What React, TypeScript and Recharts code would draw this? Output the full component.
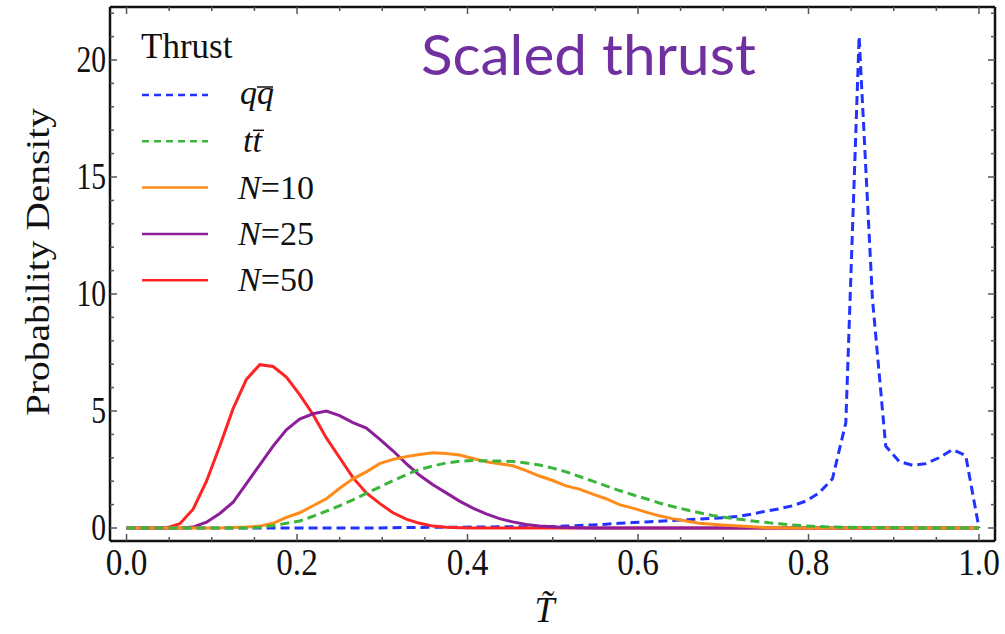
import React from "react";
import { LineChart, Line, XAxis, YAxis } from "recharts";

const W = 1005;
const H = 634;

// Thrust grid: 65 points, steps of 1/64 from 0 to 1
const T_GRID = [
  0, 0.0156, 0.0313, 0.0469, 0.0625, 0.0781, 0.0938, 0.1094, 0.125, 0.1406,
  0.1563, 0.1719, 0.1875, 0.2031, 0.2188, 0.2344, 0.25, 0.2656, 0.2813, 0.2969,
  0.3125, 0.3281, 0.3438, 0.3594, 0.375, 0.3906, 0.4063, 0.4219, 0.4375, 0.4531,
  0.4688, 0.4844, 0.5, 0.5156, 0.5313, 0.5469, 0.5625, 0.5781, 0.5938, 0.6094,
  0.625, 0.6406, 0.6563, 0.6719, 0.6875, 0.7031, 0.7188, 0.7344, 0.75, 0.7656,
  0.7813, 0.7969, 0.8125, 0.8281, 0.8438, 0.8594, 0.875, 0.8906, 0.9063, 0.9219,
  0.9375, 0.9531, 0.9688, 0.9844, 1,
];

// q qbar (blue dashed)
const QQ = [
  0, 0, 0, 0, 0, 0, 0, 0, 0, 0,
  0, 0, 0, 0, 0, 0, 0, 0, 0, 0,
  0.01, 0.02, 0.02, 0.03, 0.03, 0.03, 0.04, 0.04, 0.05, 0.05,
  0.05, 0.06, 0.06, 0.08, 0.11, 0.13, 0.16, 0.2, 0.23, 0.26,
  0.29, 0.32, 0.35, 0.38, 0.41, 0.45, 0.5, 0.6, 0.72, 0.82,
  0.95, 1.15, 1.5, 2.1, 4.5, 21.0, 9.8, 3.5, 2.85, 2.68,
  2.75, 3.0, 3.35, 3.1, 0,
];

// t tbar (green dashed)
const TT = [
  0, 0, 0, 0, 0, 0, 0, 0, 0, 0,
  0.03, 0.1, 0.2, 0.3, 0.5, 0.72, 0.95, 1.2, 1.48, 1.75,
  2.02, 2.28, 2.5, 2.65, 2.78, 2.85, 2.88, 2.87, 2.86, 2.84,
  2.78, 2.69, 2.56, 2.4, 2.2, 2.0, 1.8, 1.6, 1.42, 1.25,
  1.07, 0.92, 0.78, 0.65, 0.53, 0.45, 0.37, 0.3, 0.24, 0.18,
  0.13, 0.09, 0.06, 0.04, 0.03, 0.02, 0.02, 0.01, 0.01, 0,
  0, 0, 0, 0, 0,
];

// N=10 (orange)
const N10 = [
  0, 0, 0, 0, 0, 0, 0, 0, 0.02, 0.04,
  0.08, 0.2, 0.45, 0.65, 0.95, 1.25, 1.7, 2.1, 2.4, 2.75,
  2.93, 3.05, 3.14, 3.22, 3.18, 3.12, 2.97, 2.83, 2.75, 2.66,
  2.45, 2.22, 2.03, 1.8, 1.66, 1.45, 1.25, 1.0, 0.85, 0.68,
  0.52, 0.4, 0.3, 0.2, 0.16, 0.12, 0.08, 0.05, 0.02, 0.01,
  0, 0, 0, 0, 0, 0, 0, 0, 0, 0,
  0, 0, 0, 0, 0,
];

// N=25 (purple)
const N25 = [
  0, 0, 0, 0, 0, 0.04, 0.25, 0.62, 1.1, 1.9,
  2.7, 3.5, 4.2, 4.65, 4.88, 5.0, 4.8, 4.5, 4.27, 3.8,
  3.3, 2.75, 2.25, 1.85, 1.5, 1.15, 0.85, 0.6, 0.4, 0.26,
  0.15, 0.09, 0.05, 0.02, 0.01, 0, 0, 0, 0, 0,
  0, 0, 0, 0, 0, 0, 0, 0, 0, 0,
  0, 0, 0, 0, 0, 0, 0, 0, 0, 0,
  0, 0, 0, 0, 0,
];

// N=50 (red)
const N50 = [
  0, 0, 0, 0, 0.18, 0.8, 2.0, 3.5, 5.1, 6.35,
  6.98, 6.9, 6.45, 5.7, 4.85, 3.85, 3.0, 2.15, 1.5, 1.05,
  0.65, 0.38, 0.2, 0.08, 0.03, 0.01, 0, 0, 0, 0,
  0, 0, 0, 0, 0, 0, 0, 0, 0, 0,
  0, 0, 0, 0, 0, 0, 0, 0, 0, 0,
  0, 0, 0, 0, 0, 0, 0, 0, 0, 0,
  0, 0, 0, 0, 0,
];

const X_TICKS = [
  0, 0.05, 0.1, 0.15, 0.2, 0.25, 0.3, 0.35, 0.4, 0.45, 0.5,
  0.55, 0.6, 0.65, 0.7, 0.75, 0.8, 0.85, 0.9, 0.95, 1,
];
const X_LABELS = [0, 0.2, 0.4, 0.6, 0.8, 1];
const Y_TICKS = [
  0, 1, 2, 3, 4, 5, 6, 7, 8, 9, 10, 11, 12, 13, 14, 15, 16, 17, 18, 19, 20, 21, 22,
];
const Y_LABELS = [0, 5, 10, 15, 20];

const X_DOMAIN: [number, number] = [-0.0194, 1.0188];
const Y_DOMAIN: [number, number] = [-0.556, 22.265];

const data = T_GRID.map((t, i) => ({
  t,
  qq: QQ[i],
  tt: TT[i],
  n10: N10[i],
  n25: N25[i],
  n50: N50[i],
}));

const BLUE = "#2233ff";
const GREEN = "#3bb53b";
const ORANGE = "#ff8c1a";
const PURPLE = "#8c1f99";
const RED = "#ff2424";

// draw order (first = underneath), as in the original plot
const SERIES = [
  { key: "qq", color: BLUE, dash: "9 5" },
  { key: "n50", color: RED, dash: undefined },
  { key: "n25", color: PURPLE, dash: undefined },
  { key: "n10", color: ORANGE, dash: undefined },
  { key: "tt", color: GREEN, dash: "9 5" },
];

const SERIF = '"Liberation Serif", "Times New Roman", serif';
const TICK_COLOR = "#555";
const FRAME = { stroke: "#111", strokeWidth: 2.5 };

const near = (v: number, list: number[]) => list.some((m) => Math.abs(m - v) < 1e-6);

function BottomTick({ x, y, payload }: any) {
  const major = near(payload.value, X_LABELS);
  return (
    <g>
      <line x1={x} x2={x} y1={y} y2={y - (major ? 7 : 4)} stroke={TICK_COLOR} strokeWidth={1.5} />
      {major && (
        <text
          transform={`translate(${x},${y + 34}) scale(0.9,1)`}
          textAnchor="middle"
          fontFamily={SERIF}
          fontSize={37}
          fill="#111"
        >
          {payload.value.toFixed(1)}
        </text>
      )}
    </g>
  );
}

function TopTick({ x, y, payload }: any) {
  const major = near(payload.value, X_LABELS);
  return <line x1={x} x2={x} y1={y} y2={y + (major ? 7 : 4)} stroke={TICK_COLOR} strokeWidth={1.5} />;
}

function LeftTick({ x, y, payload }: any) {
  const major = near(payload.value, Y_LABELS);
  return (
    <g>
      <line x1={x} x2={x + (major ? 7 : 4)} y1={y} y2={y} stroke={TICK_COLOR} strokeWidth={1.5} />
      {major && (
        <text
          transform={`translate(${x - 4},${y + 12}) scale(0.8,1)`}
          textAnchor="end"
          fontFamily={SERIF}
          fontSize={37}
          fill="#111"
        >
          {payload.value}
        </text>
      )}
    </g>
  );
}

function RightTick({ x, y, payload }: any) {
  const major = near(payload.value, Y_LABELS);
  return <line x1={x} x2={x - (major ? 7 : 4)} y1={y} y2={y} stroke={TICK_COLOR} strokeWidth={1.5} />;
}

function YTitle({ viewBox }: any) {
  const cy = viewBox.y + viewBox.height / 2 - 12;
  return (
    <text
      transform={`translate(49,${cy}) rotate(-90)`}
      textAnchor="middle"
      fontFamily={SERIF}
      fontSize={33}
      textLength={308}
      lengthAdjust="spacingAndGlyphs"
      fill="#111"
    >
      Probability Density
    </text>
  );
}

function XTitle({ viewBox }: any) {
  const cx = viewBox.x + viewBox.width / 2 - 8;
  return (
    <text x={cx} y={viewBox.y + 81} textAnchor="middle" fontFamily={SERIF} fontSize={36} fontStyle="italic" fill="#111">
      {"T\u0303"}
    </text>
  );
}

// legend rows
const LEGEND = [
  { id: "qq", color: BLUE, dash: "7 5" },
  { id: "tt", color: GREEN, dash: "7 5" },
  { id: "N=10", color: ORANGE },
  { id: "N=25", color: PURPLE },
  { id: "N=50", color: RED },
];

function LegendLabel({ id, x, y }: { id: string; x: number; y: number }) {
  const common = { fontFamily: SERIF, fontSize: 34, fill: "#111" };
  if (id === "qq") {
    return (
      <g>
        <text x={x + 2} y={y + 9} fontStyle="italic" {...common}>qq</text>
        <line x1={x + 19} x2={x + 35} y1={y - 8} y2={y - 8} stroke="#111" strokeWidth={1.5} />
      </g>
    );
  }
  if (id === "tt") {
    return (
      <g>
        <text x={x + 5} y={y + 11} fontStyle="italic" {...common}>tt</text>
        <line x1={x + 15} x2={x + 26} y1={y - 11} y2={y - 11} stroke="#111" strokeWidth={1.5} />
      </g>
    );
  }
  const [n, rest] = id.split("=");
  return (
    <text x={x} y={y + 11} {...common}>
      <tspan fontStyle="italic">{n}</tspan>={rest}
    </text>
  );
}

function Overlay() {
  return (
    <svg width={W} height={H} style={{ position: "absolute", left: 0, top: 0, pointerEvents: "none" }}>
      <text
        x={421}
        y={75}
        fill="#7030a0"
        fontFamily="Lato, 'Open Sans', sans-serif"
        fontSize={57}
        textLength={335}
        lengthAdjust="spacingAndGlyphs"
      >
        Scaled thrust
      </text>
      <text x={141} y={58} fontFamily={SERIF} fontSize={35} fill="#111">
        Thrust
      </text>
      {LEGEND.map((s, i) => {
        const y = 95 + i * 46.3;
        return (
          <g key={s.id}>
            <line x1={142} x2={208} y1={y} y2={y} stroke={s.color} strokeWidth={2.5} strokeDasharray={s.dash} />
            <LegendLabel id={s.id} x={238} y={y} />
          </g>
        );
      })}
    </svg>
  );
}

export default function App() {
  return (
    <div style={{ position: "absolute", left: 0, top: 0, width: W, height: H, background: "#fff" }}>
      <LineChart width={W} height={H} data={data} margin={{ top: 0, right: 0, bottom: 0, left: 0 }}>
        <XAxis
          xAxisId="bottom"
          dataKey="t"
          type="number"
          domain={X_DOMAIN}
          ticks={X_TICKS}
          interval={0}
          allowDataOverflow
          height={93}
          tickSize={0}
          tickMargin={0}
          tickLine={false}
          axisLine={FRAME}
          tick={(p: any) => <BottomTick {...p} />}
          label={(p: any) => <XTitle {...p} />}
        />
        <XAxis
          xAxisId="top"
          orientation="top"
          dataKey="t"
          type="number"
          domain={X_DOMAIN}
          ticks={X_TICKS}
          interval={0}
          allowDataOverflow
          height={7}
          tickSize={0}
          tickMargin={0}
          tickLine={false}
          axisLine={FRAME}
          tick={(p: any) => <TopTick {...p} />}
        />
        <YAxis
          yAxisId="left"
          type="number"
          domain={Y_DOMAIN}
          ticks={Y_TICKS}
          interval={0}
          allowDataOverflow
          width={110}
          tickSize={0}
          tickMargin={0}
          tickLine={false}
          axisLine={FRAME}
          tick={(p: any) => <LeftTick {...p} />}
          label={(p: any) => <YTitle {...p} />}
        />
        <YAxis
          yAxisId="right"
          orientation="right"
          type="number"
          domain={Y_DOMAIN}
          ticks={Y_TICKS}
          interval={0}
          allowDataOverflow
          width={10}
          tickSize={0}
          tickMargin={0}
          tickLine={false}
          axisLine={FRAME}
          tick={(p: any) => <RightTick {...p} />}
        />
        {SERIES.map((s) => (
          <Line
            key={s.key}
            xAxisId="bottom"
            yAxisId="left"
            dataKey={s.key}
            type="linear"
            stroke={s.color}
            strokeWidth={3}
            strokeDasharray={s.dash}
            dot={false}
            activeDot={false}
            isAnimationActive={false}
          />
        ))}
      </LineChart>
      <Overlay />
    </div>
  );
}
